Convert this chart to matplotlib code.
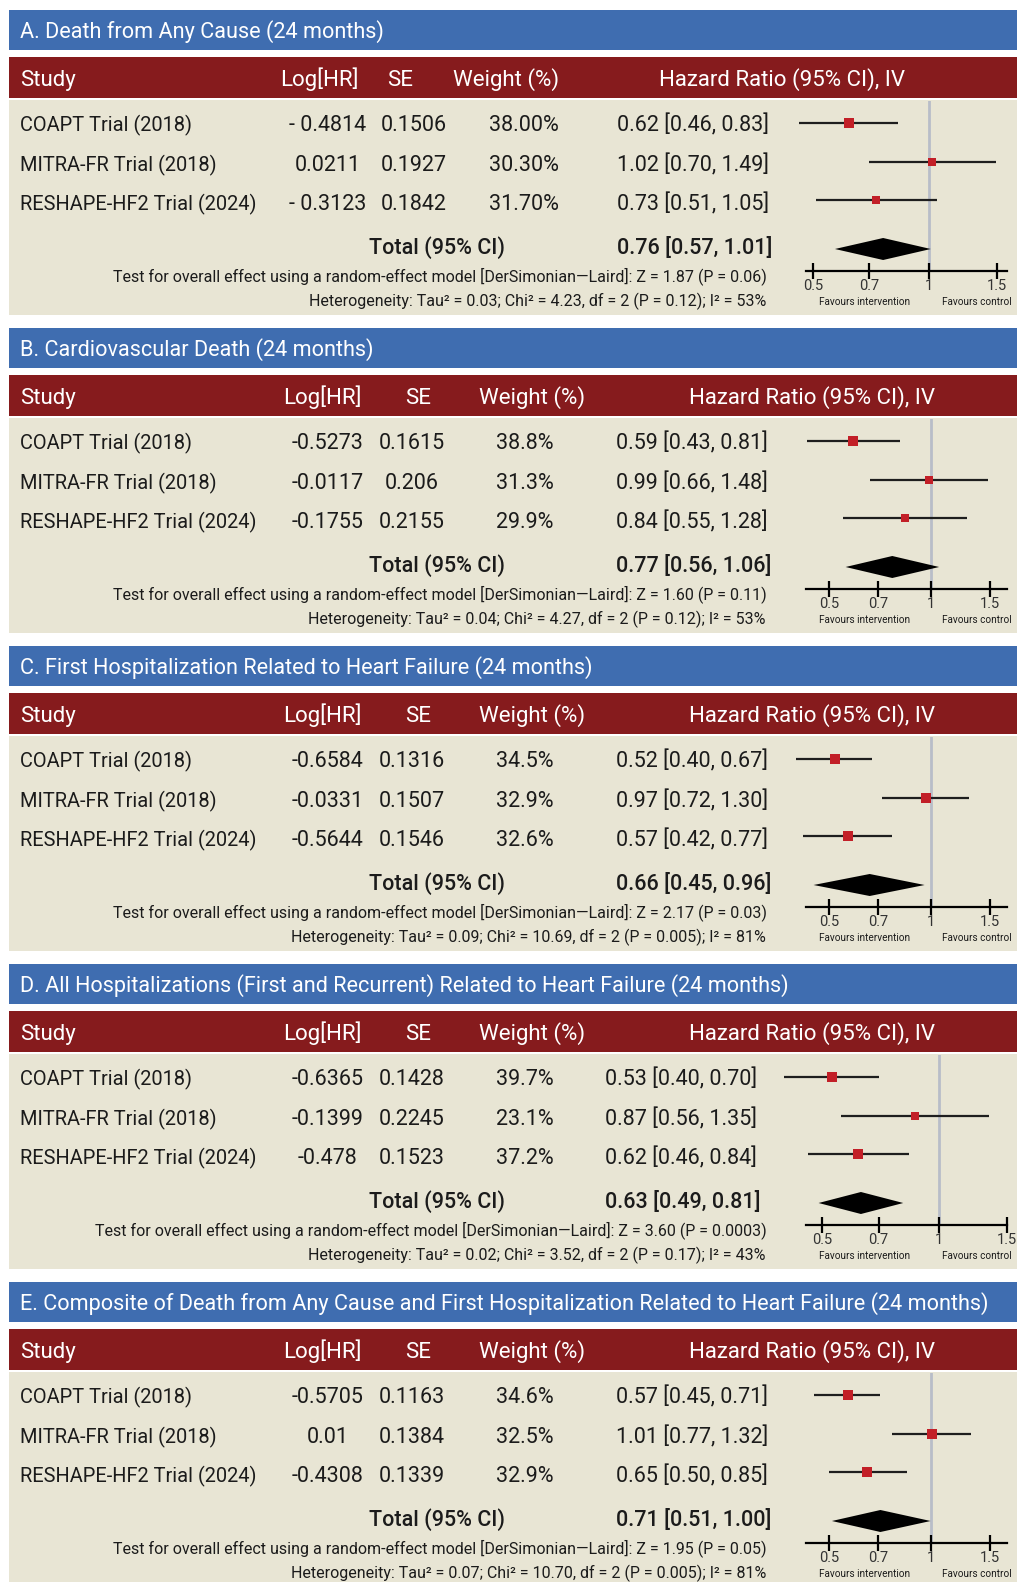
import numpy as np
import matplotlib.pyplot as plt
from matplotlib.patches import Rectangle, Polygon

plt.rcParams['font.family'] = ['Roboto', 'DejaVu Sans']

# ---- data ----
titles = [
    "A. Death from Any Cause (24 months)",
    "B. Cardiovascular Death (24 months)",
    "C. First Hospitalization Related to Heart Failure (24 months)",
    "D. All Hospitalizations (First and Recurrent) Related to Heart Failure (24 months)",
    "E. Composite of Death from Any Cause and First Hospitalization Related to Heart Failure (24 months)",
]
studies = ["COAPT Trial (2018)", "MITRA-FR Trial (2018)", "RESHAPE-HF2 Trial (2024)"]

log_hr = [
    [-0.4814, 0.0211, -0.3123],
    [-0.5273, -0.0117, -0.1755],
    [-0.6584, -0.0331, -0.5644],
    [-0.6365, -0.1399, -0.478],
    [-0.5705, 0.01, -0.4308],
]
se = [
    [0.1506, 0.1927, 0.1842],
    [0.1615, 0.206, 0.2155],
    [0.1316, 0.1507, 0.1546],
    [0.1428, 0.2245, 0.1523],
    [0.1163, 0.1384, 0.1339],
]
weight = [
    [38.00, 30.30, 31.70],
    [38.8, 31.3, 29.9],
    [34.5, 32.9, 32.6],
    [39.7, 23.1, 37.2],
    [34.6, 32.5, 32.9],
]
hr = [
    [0.62, 1.02, 0.73],
    [0.59, 0.99, 0.84],
    [0.52, 0.97, 0.57],
    [0.53, 0.87, 0.62],
    [0.57, 1.01, 0.65],
]
hr_lo = [
    [0.46, 0.70, 0.51],
    [0.43, 0.66, 0.55],
    [0.40, 0.72, 0.42],
    [0.40, 0.56, 0.46],
    [0.45, 0.77, 0.50],
]
hr_hi = [
    [0.83, 1.49, 1.05],
    [0.81, 1.48, 1.28],
    [0.67, 1.30, 0.77],
    [0.70, 1.35, 0.84],
    [0.71, 1.32, 0.85],
]
tot = [0.76, 0.77, 0.66, 0.63, 0.71]
tot_lo = [0.57, 0.56, 0.45, 0.49, 0.51]
tot_hi = [1.01, 1.06, 0.96, 0.81, 1.00]
z_val = [1.87, 1.60, 2.17, 3.60, 1.95]
p_val = ["0.06", "0.11", "0.03", "0.0003", "0.05"]
tau2 = [0.03, 0.04, 0.09, 0.02, 0.07]
chi2 = [4.23, 4.27, 10.69, 3.52, 10.70]
p_het = ["0.12", "0.12", "0.005", "0.17", "0.005"]
i2 = [53, 53, 81, 43, 81]
ticks = [0.5, 0.7, 1, 1.5]

# ---- layout (pixels) ----
W, H = 1024, 1582
tops = [10, 328, 646, 964, 1282]
# pixel position of the 0.5 and 1.5 ticks in each panel
tick_px = [(813, 997), (829, 990), (829, 990), (822, 1007), (829, 990)]

BLUE = '#3f6db0'
RED = '#861b1d'
BEIGE = '#e8e5d4'
SQ = '#c21f27'
TXT = '#1b1b1b'

fig = plt.figure(figsize=(W / 100, H / 100), dpi=100)
ax0 = fig.add_axes([0, 0, 1, 1])
ax0.set_xlim(0, W)
ax0.set_ylim(H, 0)
ax0.axis('off')

for i, top in enumerate(tops):
    # backgrounds
    ax0.add_patch(Rectangle((9, top), 1008, 40, color=BLUE, lw=0))
    ax0.add_patch(Rectangle((9, top + 47), 1008, 41, color=RED, lw=0))
    ax0.add_patch(Rectangle((9, top + 90), 1008, 215, color=BEIGE, lw=0))

    ax0.text(20, top + 28, titles[i], color='white', fontsize=15.6, va='baseline', ha='left')

    if i == 0:
        c_log, c_se, c_w, c_hr, c_hrt = 328, 414, 524, 782, 617
        hx_log, hx_se, hx_w = 319, 400, 506
    else:
        c_log, c_se, c_w, c_hr, c_hrt = 328, 412, 525, 812, 616
        hx_log, hx_se, hx_w = 322, 418, 532
    if i == 3:
        c_hrt = 605

    hy = top + 76
    hkw = dict(color='white', fontsize=16, va='baseline')
    ax0.text(20, hy, "Study", ha='left', **hkw)
    ax0.text(hx_log, hy, "Log[HR]", ha='center', **hkw)
    ax0.text(hx_se, hy, "SE", ha='center', **hkw)
    ax0.text(hx_w, hy, "Weight (%)", ha='center', **hkw)
    ax0.text(c_hr, hy, "Hazard Ratio (95% CI), IV", ha='center', **hkw)

    row_y = [top + 121, top + 161, top + 200]
    nkw = dict(color=TXT, fontsize=15.5, va='baseline')
    for j in range(3):
        v = log_hr[i][j]
        if i == 0:
            s_log = f"- {abs(v):g}" if v < 0 else f"{v:g}"
            s_w = f"{weight[i][j]:.2f}%"
        else:
            s_log = f"{v:g}"
            s_w = f"{weight[i][j]:.1f}%"
        ax0.text(20, row_y[j], studies[j], ha='left', color=TXT, fontsize=14.4, va='baseline')
        ax0.text(c_log, row_y[j], s_log, ha='center', **nkw)
        ax0.text(c_se, row_y[j], f"{se[i][j]:g}", ha='center', **nkw)
        ax0.text(c_w, row_y[j], s_w, ha='center', **nkw)
        ax0.text(c_hrt, row_y[j], f"{hr[i][j]:.2f} [{hr_lo[i][j]:.2f}, {hr_hi[i][j]:.2f}]",
                 ha='left', **nkw)

    ty = top + 244
    ax0.text(437, ty, "Total (95% CI)", ha='center', color=TXT, fontsize=15.5, va='baseline',
             fontweight='medium')
    ax0.text(c_hrt, ty, f"{tot[i]:.2f} [{tot_lo[i]:.2f}, {tot_hi[i]:.2f}]", ha='left',
             color=TXT, fontsize=15.5, va='baseline', fontweight='medium')
    ax0.text(767, top + 271,
             "Test for overall effect using a random-effect model [DerSimonian\u2014Laird]: "
             f"Z = {z_val[i]:.2f} (P = {p_val[i]})",
             ha='right', va='baseline', color=TXT, fontsize=11.5)
    ax0.text(766, top + 296,
             f"Heterogeneity: Tau\u00b2 = {tau2[i]:.2f}; Chi\u00b2 = {chi2[i]:.2f}, df = 2 "
             f"(P = {p_het[i]}); I\u00b2 = {i2[i]}%",
             ha='right', va='baseline', color=TXT, fontsize=11.5)

    ax0.text(865, top + 292, "Favours intervention", ha='center', va='center',
             color=TXT, fontsize=7.2)
    ax0.text(977, top + 292, "Favours control", ha='center', va='center',
             color=TXT, fontsize=7.2)

    # ---- forest plot axes ----
    xl, xr = 806, 1007
    y_top, y_axis = top + 91, top + 261
    p05, p15 = tick_px[i]
    k = (p15 - p05) / np.log(3)
    xmin = 0.5 * np.exp((xl - p05) / k)
    xmax = 0.5 * np.exp((xr - p05) / k)

    fa = fig.add_axes([xl / W, 1 - y_axis / H, (xr - xl) / W, (y_axis - y_top) / H])
    fa.patch.set_visible(False)
    fa.set_xscale('log')
    fa.set_xlim(xmin, xmax)
    # study rows at 0,1,2 (38.5 px apart, first one 113 px below panel top)
    sp = 38.5
    y0 = top + 113
    fa.set_ylim((y_axis - y0) / sp, (y_top - y0) / sp)
    fa.axvline(1, color='#b8bdc8', lw=2, zorder=1)

    for j in range(3):
        fa.hlines(j, hr_lo[i][j], hr_hi[i][j], color='#1e1e1e', lw=1.6, zorder=2, clip_on=False)
        fa.plot(hr[i][j], j, 's', color=SQ, ms=(2 + 0.22 * weight[i][j]) * 0.72, mew=0,
                zorder=3, clip_on=False)

    yt = 126 / sp
    dh = 11 / sp
    fa.add_patch(Polygon([(tot_lo[i], yt), (tot[i], yt - dh), (tot_hi[i], yt), (tot[i], yt + dh)],
                         closed=True, color='black', lw=0, zorder=3))

    for s in ['top', 'left', 'right']:
        fa.spines[s].set_visible(False)
    fa.spines['bottom'].set_linewidth(1.6)
    fa.set_yticks([])
    fa.minorticks_off()
    fa.set_xticks(ticks)
    fa.set_xticklabels([f"{t:g}" for t in ticks])
    fa.tick_params(axis='x', direction='inout', length=12, width=1.6, pad=0,
                   labelsize=10.5, labelcolor='#333333')

fig.savefig('out.png', dpi=100)
